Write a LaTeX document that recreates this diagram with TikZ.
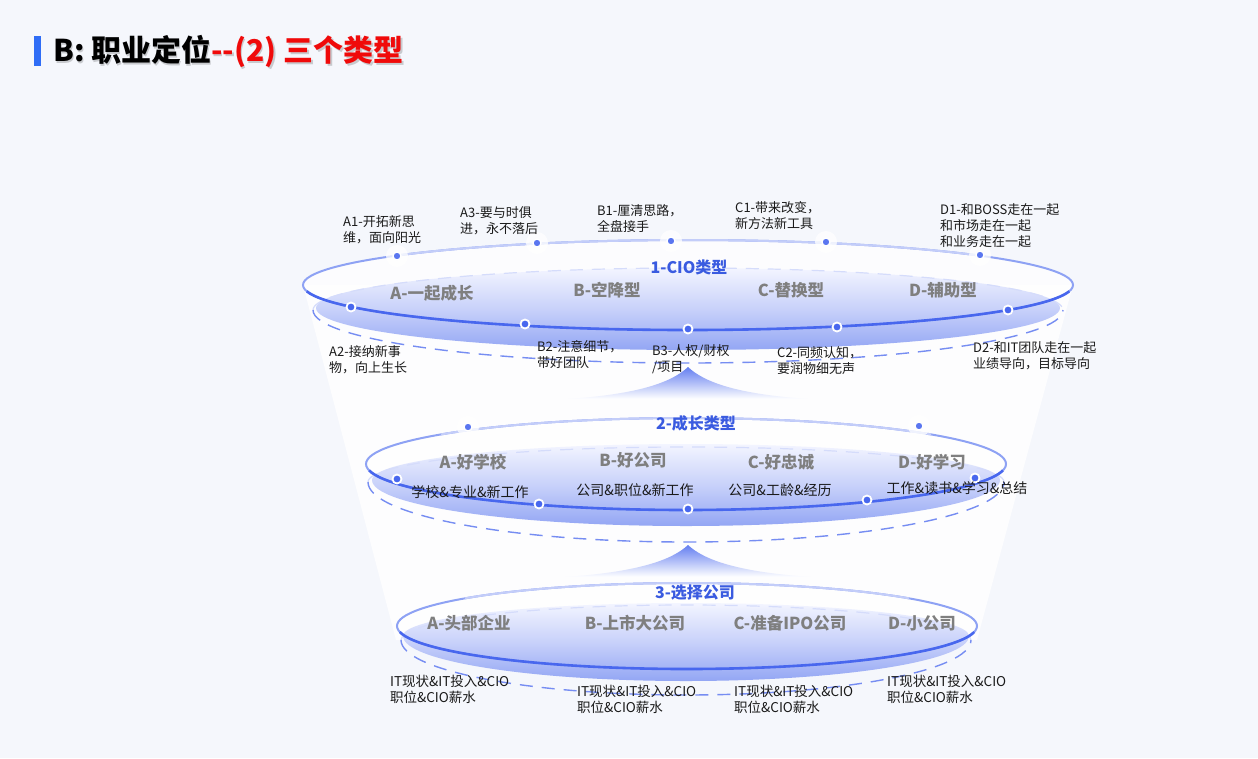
\documentclass[tikz,border=0pt]{standalone}
\usepackage{fontspec}
\setmainfont{Noto Sans CJK SC}
\usepackage{tikz}
\usetikzlibrary{calc,positioning}
\definecolor{pagebg}{HTML}{F5F7FC}
\definecolor{ringblue}{HTML}{4867EE}
\definecolor{ringmid}{HTML}{8EA2F4}
\definecolor{ringlite}{HTML}{C3CDF9}
\definecolor{titleblue}{HTML}{3A5BE0}
\definecolor{catgray}{HTML}{7F7F7F}
\definecolor{titlered}{HTML}{F00A0A}
\definecolor{barblue}{HTML}{2F6DF6}
\definecolor{diskhi}{HTML}{F3F5FF}
\definecolor{diskmid}{HTML}{C8D1FA}
\definecolor{disklo}{HTML}{93A6F4}
\definecolor{notetext}{HTML}{1A1A1A}
\tikzset{
  lvltitle/.style={font=\fontsize{16}{18}\selectfont\bfseries, text=titleblue, inner sep=0pt},
  cat/.style={font=\fontsize{16.5}{18}\selectfont\bfseries, text=catgray, inner sep=0pt},
  note/.style={font=\fontsize{13}{16}\selectfont, text=notetext, align=left, anchor=west, inner sep=0pt},
  sub/.style={font=\fontsize{14}{16}\selectfont, text=notetext, inner sep=0pt},
  frontdot/.style={circle, fill=ringblue, draw=white, line width=1.8pt, inner sep=0pt, minimum size=9pt},
  backdot/.style={circle, fill=ringblue!90, draw=white, line width=1.4pt, inner sep=0pt, minimum size=8pt},
  halo/.style={white, opacity=.75},
  ringall/.style={draw=ringmid, line width=2pt},
  ringback/.style={draw=ringlite, line width=2pt},
  ringfront/.style={draw=ringblue, line width=2.6pt},
  dashfront/.style={draw=ringblue!75, line width=1.4pt, dash pattern=on 13pt off 9pt},
  dashback/.style={draw=ringlite!70, line width=1.2pt, dash pattern=on 13pt off 9pt},
  disk/.style={top color=diskhi, bottom color=disklo, middle color=diskmid},
  tent/.style={top color=ringblue!85, bottom color=white},
  headline/.style={anchor=west, inner sep=0pt, font=\fontsize{30}{32}\selectfont\bfseries},
}

\begin{document}
\begin{tikzpicture}[x=1pt,y=1pt]
% page and funnel
\fill[pagebg] (0,0) rectangle (1258,-758);
\useasboundingbox (0,0) rectangle (1258,-758);
\fill[white, opacity=.8] (303,-285) -- (1073,-285) -- (977,-640) -- (396,-640) -- cycle;

% title
\fill[barblue] (34,-36) rectangle (41,-66);
\node[headline, text=black, opacity=.18] (titleshadow) at (54.5,-53)
  {B: 职业定位-{}-(2) 三个类型};
\node[headline] (title) at (53,-51.5)
  {B: 职业定位\textcolor{titlered}{-{}-(2) 三个类型}};

% level 1
\fill[white, opacity=.7] (688,-285) ellipse[x radius=385, y radius=45];
\shade[disk] (316,-308) arc[start angle=180, end angle=360, x radius=372, y radius=42]
  arc[start angle=0, end angle=180, x radius=372, y radius=40] -- cycle;
\draw[dashback] (313,-310) arc[start angle=180, end angle=0, x radius=375, y radius=42];
\draw[dashfront] (313,-310) arc[start angle=180, end angle=360, x radius=375, y radius=53];
\draw[ringall] (688,-285) ellipse[x radius=385, y radius=45];
\draw[ringback] ($(688,-285)+(40:385 and 45)$) arc[start angle=40, end angle=140, x radius=385, y radius=45];
\draw[ringfront] ($(688,-285)+(188:385 and 45)$) arc[start angle=188, end angle=352, x radius=385, y radius=45];
\shade[tent] (568,-399) .. controls (640,-394) and (672,-382) .. (688,-367)
  .. controls (704,-382) and (736,-394) .. (808,-399) -- cycle;

% level 2
\fill[white, opacity=.7] (686,-464) ellipse[x radius=320, y radius=46];
\shade[disk] (372,-480) arc[start angle=180, end angle=360, x radius=314, y radius=46]
  arc[start angle=0, end angle=180, x radius=314, y radius=36] -- cycle;
\draw[dashback] (368,-482) arc[start angle=180, end angle=0, x radius=318, y radius=35];
\draw[dashfront] (368,-482) arc[start angle=180, end angle=360, x radius=318, y radius=60];
\draw[ringall] (686,-464) ellipse[x radius=320, y radius=46];
\draw[ringback] ($(686,-464)+(40:320 and 46)$) arc[start angle=40, end angle=140, x radius=320, y radius=46];
\draw[ringfront] ($(686,-464)+(188:320 and 46)$) arc[start angle=188, end angle=352, x radius=320, y radius=46];
\shade[tent] (565,-577) .. controls (638,-572) and (672,-560) .. (688,-545)
  .. controls (704,-560) and (738,-572) .. (811,-577) -- cycle;

% level 3
\fill[white, opacity=.7] (687,-626) ellipse[x radius=290, y radius=43];
\shade[disk] (403,-636) arc[start angle=180, end angle=360, x radius=283, y radius=45]
  arc[start angle=0, end angle=180, x radius=283, y radius=33] -- cycle;
\draw[dashback] (401,-640) arc[start angle=180, end angle=0, x radius=285, y radius=35];
\draw[dashfront] (401,-640) arc[start angle=180, end angle=360, x radius=285, y radius=55];
\draw[ringall] (687,-626) ellipse[x radius=290, y radius=43];
\draw[ringback] ($(687,-626)+(40:290 and 43)$) arc[start angle=40, end angle=140, x radius=290, y radius=43];
\draw[ringfront] ($(687,-626)+(188:290 and 43)$) arc[start angle=188, end angle=352, x radius=290, y radius=43];

% dots, level 1
\fill[halo] (397,-256) circle (11);
\fill[halo] (537,-243) circle (11);
\fill[halo] (671,-241) circle (11);
\fill[halo] (826,-242) circle (11);
\fill[halo] (980,-255) circle (11);
\node[backdot] (a1dot) at (397,-256) {};
\node[backdot] (a3dot) at (537,-243) {};
\node[backdot] (b1dot) at (671,-241) {};
\node[backdot] (c1dot) at (826,-242) {};
\node[backdot] (d1dot) at (980,-255) {};
\node[frontdot] (a2dot) at (351,-307) {};
\node[frontdot] (b2dot) at (525,-324) {};
\node[frontdot] (b3dot) at (688,-329) {};
\node[frontdot] (c2dot) at (837,-327) {};
\node[frontdot] (d2dot) at (1008,-310) {};

% dots, level 2
\fill[halo] (468,-427) circle (11);
\fill[halo] (919,-426) circle (11);
\node[backdot] (gAdot) at (468,-427) {};
\node[backdot] (gDdot) at (919,-426) {};
\node[frontdot] (gA2dot) at (397,-479) {};
\node[frontdot] (gBdot) at (539,-504) {};
\node[frontdot] (gCdot) at (688,-509) {};
\node[frontdot] (gDdot2) at (867,-500) {};
\node[frontdot] (gEdot) at (975,-478) {};

% level 1 texts
\node[lvltitle] (cio) at (689,-267) {1-CIO类型};
\node[cat] (cioA) at (432,-293) {A-一起成长};
\node[cat] (cioB) at (607,-290) {B-空降型};
\node[cat] (cioC) at (791,-290) {C-替换型};
\node[cat] (cioD) at (943,-290) {D-辅助型};
\node[note] (a1) at (343,-230) {A1-开拓新思\\维，面向阳光};
\node[note] (a3) at (460,-221) {A3-要与时俱\\进，永不落后};
\node[note] (b1) at (597,-218.5) {B1-厘清思路，\\全盘接手};
\node[note] (c1) at (735,-216) {C1-带来改变，\\新方法新工具};
\node[note] (d1) at (940,-225.5) {D1-和BOSS走在一起\\和市场走在一起\\和业务走在一起};
\node[note] (a2) at (329,-359.5) {A2-接纳新事\\物，向上生长};
\node[note] (b2) at (537,-355) {B2-注意细节，\\带好团队};
\node[note] (b3) at (652,-359.5) {B3-人权/财权\\/项目};
\node[note] (c2) at (777,-360.5) {C2-同频认知，\\要润物细无声};
\node[note] (d2) at (973,-355.5) {D2-和IT团队走在一起\\业绩导向，目标导向};

% level 2 texts
\node[lvltitle] (grow) at (696,-423) {2-成长类型};
\node[cat] (growA) at (473,-462) {A-好学校};
\node[cat] (growB) at (633,-460) {B-好公司};
\node[cat] (growC) at (781,-462) {C-好忠诚};
\node[cat] (growD) at (932,-462) {D-好学习};
\node[sub] (growA2) at (470,-492) {学校\&专业\&新工作};
\node[sub] (growB2) at (635,-490) {公司\&职位\&新工作};
\node[sub] (growC2) at (780,-490) {公司\&工龄\&经历};
\node[sub] (growD2) at (957,-488) {工作\&读书\&学习\&总结};

% level 3 texts
\node[lvltitle] (pick) at (695,-593) {3-选择公司};
\node[cat] (pickA) at (469,-623) {A-头部企业};
\node[cat] (pickB) at (635,-623) {B-上市大公司};
\node[cat] (pickC) at (790,-623) {C-准备IPO公司};
\node[cat] (pickD) at (922,-623) {D-小公司};
\node[note, font=\fontsize{13.5}{16}\selectfont] (pickA2) at (390,-689) {IT现状\&IT投入\&CIO\\职位\&CIO薪水};
\node[note, font=\fontsize{13.5}{16}\selectfont] (pickB2) at (577,-699) {IT现状\&IT投入\&CIO\\职位\&CIO薪水};
\node[note, font=\fontsize{13.5}{16}\selectfont] (pickC2) at (734,-699) {IT现状\&IT投入\&CIO\\职位\&CIO薪水};
\node[note, font=\fontsize{13.5}{16}\selectfont] (pickD2) at (887,-689.5) {IT现状\&IT投入\&CIO\\职位\&CIO薪水};
\end{tikzpicture}
\end{document}
